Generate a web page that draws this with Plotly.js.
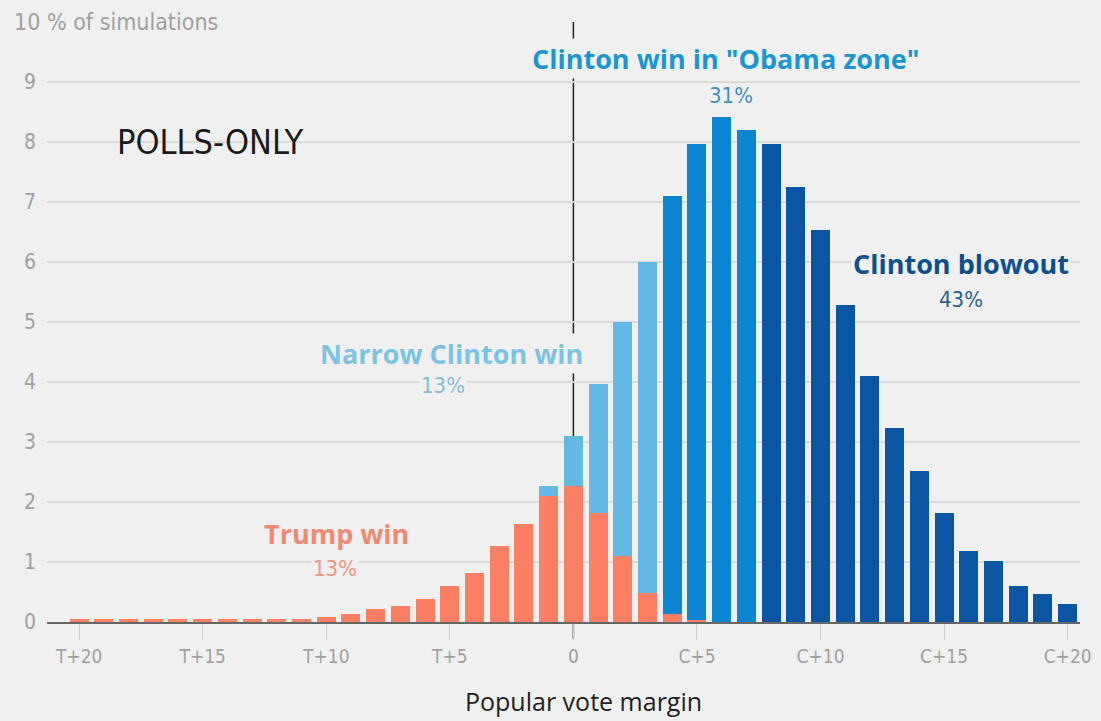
<!DOCTYPE html>
<html>
<head>
<meta charset="utf-8">
<script src="https://cdn.plot.ly/plotly-3.0.1.min.js"></script>
<style>
html,body{margin:0;padding:0;background:#f0f0f0;}
#chart{width:1101px;height:721px;}
</style>
</head>
<body>
<div id="chart"></div>
<script>
// Popular vote margin, T+20 (-20) ... C+20 (+20)
const margins = [-20,-19,-18,-17,-16,-15,-14,-13,-12,-11,-10,-9,-8,-7,-6,-5,-4,-3,-2,-1,0,1,2,3,4,5,6,7,8,9,10,11,12,13,14,15,16,17,18,19,20];
// % of simulations in each segment
const trumpWin      = [0.05,0.05,0.05,0.05,0.05,0.05,0.05,0.05,0.05,0.05,0.09,0.14,0.22,0.27,0.39,0.60,0.81,1.27,1.63,2.10,2.26,1.81,1.10,0.49,0.14,0.03,0,0,0,0,0,0,0,0,0,0,0,0,0,0,0];
const narrowClinton = [0,0,0,0,0,0,0,0,0,0,0,0,0,0,0,0,0,0,0,0.17,0.84,2.16,3.90,5.51,0,0,0,0,0,0,0,0,0,0,0,0,0,0,0,0,0];
const obamaZone     = [0,0,0,0,0,0,0,0,0,0,0,0,0,0,0,0,0,0,0,0,0,0,0,0,6.96,7.94,8.42,8.20,0,0,0,0,0,0,0,0,0,0,0,0,0];
const blowout       = [0,0,0,0,0,0,0,0,0,0,0,0,0,0,0,0,0,0,0,0,0,0,0,0,0,0,0,0,7.96,7.25,6.53,5.28,4.10,3.23,2.52,1.81,1.19,1.02,0.60,0.47,0.30];

const xTickVals = [-20,-15,-10,-5,0,5,10,15,20];
const xTickText = ['T+20','T+15','T+10','T+5','0','C+5','C+10','C+15','C+20'];
const yTickVals = [0,1,2,3,4,5,6,7,8,9,10];
const yTickText = ['0','1','2','3','4','5','6','7','8','9',''];

const COND = 'Liberation Sans Narrow, DejaVu Sans Condensed, Arial Narrow, sans-serif';
const BOLD = 'Open Sans, Lato, sans-serif';
const BG = '#f0f0f0';

const colors = {trump:'#fd7f63', narrow:'#63b8e4', obama:'#0a86d0', blow:'#0a56a3'};

function bar(y, c, name){
  return {type:'bar', x:margins, y:y, name:name, marker:{color:c, line:{width:0}}, hoverinfo:'skip'};
}
const data = [
  bar(trumpWin, colors.trump, 'Trump win'),
  bar(narrowClinton, colors.narrow, 'Narrow Clinton win'),
  bar(obamaZone, colors.obama, 'Clinton win in "Obama zone"'),
  bar(blowout, colors.blow, 'Clinton blowout')
];

function ann(text, x, y, size, color, family, extra){
  return Object.assign({text:text, x:x, y:y, xref:'x', yref:'y', showarrow:false,
    font:{size:size, color:color, family:family}, bgcolor:BG, borderpad:1}, extra||{});
}

const layout = {
  width:1101, height:721,
  paper_bgcolor:BG, plot_bgcolor:BG,
  margin:{l:47, r:21, t:22, b:99},
  barmode:'stack', bargap:0.23,
  showlegend:false,
  xaxis:{range:[-21.3,20.5], tickvals:xTickVals, ticktext:xTickText, ticks:'outside', ticklen:16,
    tickcolor:'#cfcfcf', tickwidth:1, showgrid:false, zeroline:false, showline:true, linecolor:'#666', linewidth:2,
    tickfont:{family:COND, size:19, color:'#a0a0a0'}, fixedrange:true},
  yaxis:{range:[0,10], tickvals:yTickVals, ticktext:yTickText, showgrid:true, gridcolor:'#dadada', gridwidth:2,
    zeroline:false, showline:false, ticks:'', ticklabelstandoff:10,
    tickfont:{family:COND, size:21, color:'#a0a0a0'}, fixedrange:true},
  shapes:[
    {type:'line', xref:'x', yref:'paper', x0:0, x1:0, y0:-0.028, y1:1, layer:'between', line:{color:'#222', width:1.5}}
  ],
  annotations:[
    {text:'10 % of simulations', xref:'paper', yref:'y', x:(5-47)/1033, y:10, xanchor:'left', yanchor:'middle',
      showarrow:false, font:{family:COND, size:23, color:'#a0a0a0'}, bgcolor:BG, borderpad:8},
    ann('POLLS-ONLY', -18.54, 8.0, 34, '#1a1a1a', COND, {xanchor:'left', bgcolor:'rgba(0,0,0,0)'}),
    ann('<b>Clinton win in "Obama zone"</b>', 6.18, 9.4, 27, '#1b96d3', BOLD),
    ann('31%', 6.36, 8.78, 22, '#3f8fc2', COND, {bgcolor:'rgba(0,0,0,0)'}),
    ann('<b>Narrow Clinton win</b>', -4.94, 4.48, 27, '#7cc3e3', BOLD),
    ann('13%', -5.26, 3.95, 22, '#86bcd6', COND),
    ann('<b>Trump win</b>', -9.6, 1.48, 27, '#f08a72', BOLD),
    ann('13%', -9.64, 0.9, 22, '#f0957f', COND),
    ann('<b>Clinton blowout</b>', 15.67, 5.97, 27, '#0d4f8f', BOLD),
    ann('43%', 15.67, 5.38, 22, '#2d5f8f', COND),
    {text:'Popular vote margin', xref:'paper', yref:'paper', x:(583-47)/1033, y:(622-701)/600, xanchor:'center', yanchor:'middle',
      showarrow:false, font:{family:'Open Sans, Roboto, sans-serif', size:25, color:'#222'}}
  ]
};

Plotly.newPlot('chart', data, layout, {staticPlot:true, displayModeBar:false});
</script>
</body>
</html>
